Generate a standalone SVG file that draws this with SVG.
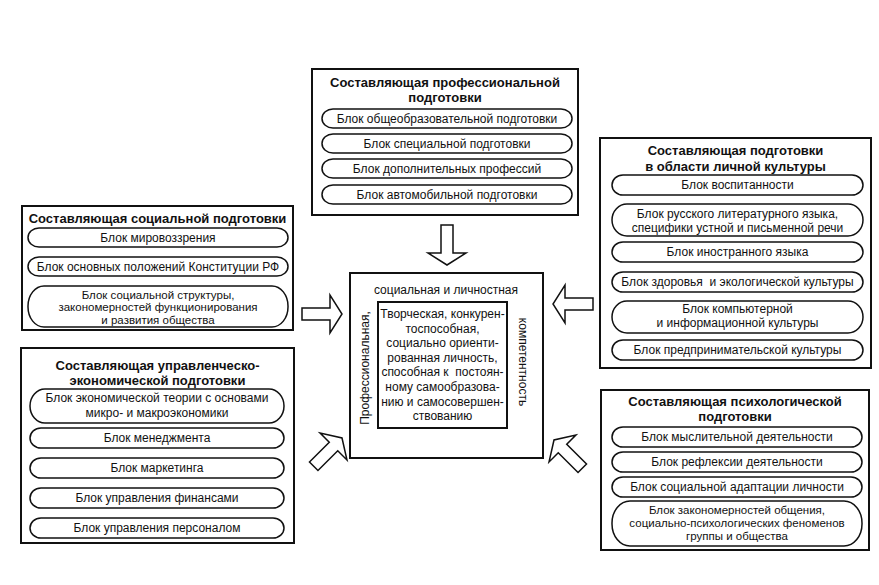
<svg xmlns="http://www.w3.org/2000/svg" width="879" height="585" viewBox="0 0 879 585">
<defs>
<style>
.box{fill:none;stroke:#111;stroke-width:2}
.pill{fill:#fff;stroke:#111;stroke-width:1.5}
.t{font-family:"Liberation Sans",Arial,sans-serif;font-size:12px;fill:#111;text-anchor:middle}
.s{font-size:11.5px}
.h{font-weight:bold;font-size:13px}
.arrow{fill:#fff;stroke:#111;stroke-width:1.5;stroke-linejoin:miter}
</style>
<path id="arr" d="M-40,-6 H-12 V-19 L0,0 L-12,19 V6 H-40 Z"/>
</defs>
<rect width="879" height="585" fill="#fff"/>

<g id="prof">
<rect class="box" x="312" y="69" width="266" height="146"/>
<text class="t h" x="445" y="87">Составляющая профессиональной</text>
<text class="t h" x="445" y="102">подготовки</text>
<rect class="pill" x="322" y="109" width="250" height="19" rx="11" ry="9.5"/>
<text class="t" x="447" y="122.5">Блок общеобразовательной подготовки</text>
<rect class="pill" x="322" y="134" width="250" height="19" rx="11" ry="9.5"/>
<text class="t" x="447" y="147.5">Блок специальной подготовки</text>
<rect class="pill" x="322" y="159" width="250" height="19" rx="11" ry="9.5"/>
<text class="t" x="447" y="172.5">Блок дополнительных профессий</text>
<rect class="pill" x="322" y="185" width="250" height="19" rx="11" ry="9.5"/>
<text class="t" x="447" y="198.5">Блок автомобильной подготовки</text>
</g>

<g id="social">
<rect class="box" x="22" y="206" width="271" height="124"/>
<text class="t h" x="157.5" y="223">Составляющая социальной подготовки</text>
<rect class="pill" x="28" y="228" width="260" height="19" rx="11" ry="9.5"/>
<text class="t" x="158" y="241.5">Блок мировоззрения</text>
<rect class="pill" x="28" y="257" width="260" height="19" rx="11" ry="9.5"/>
<text class="t" x="158" y="270.5">Блок основных положений Конституции РФ</text>
<rect class="pill" x="28" y="286" width="260" height="41" rx="16" ry="20"/>
<text class="t s" x="158" y="298.5">Блок социальной структуры,</text>
<text class="t s" x="158" y="311">закономерностей функционирования</text>
<text class="t s" x="158" y="323.5">и развития общества</text>
</g>

<g id="manage">
<rect class="box" x="21" y="348" width="273" height="195"/>
<text class="t h" x="157.5" y="369.5">Составляющая управленческо-</text>
<text class="t h" x="157.5" y="384.5">экономической подготовки</text>
<rect class="pill" x="30" y="389" width="254" height="34" rx="15" ry="17"/>
<text class="t" x="157" y="402">Блок экономической теории с основами</text>
<text class="t" x="157" y="416.5">микро- и макроэкономики</text>
<rect class="pill" x="30" y="428" width="254" height="20" rx="11" ry="10"/>
<text class="t" x="157" y="442">Блок менеджмента</text>
<rect class="pill" x="30" y="458" width="254" height="20" rx="11" ry="10"/>
<text class="t" x="157" y="472">Блок маркетинга</text>
<rect class="pill" x="30" y="488" width="254" height="20" rx="11" ry="10"/>
<text class="t" x="157" y="502">Блок управления финансами</text>
<rect class="pill" x="30" y="518" width="254" height="20" rx="11" ry="10"/>
<text class="t" x="157" y="532">Блок управления персоналом</text>
</g>

<g id="culture">
<rect class="box" x="600" y="138" width="271" height="230"/>
<text class="t h" x="735.5" y="155">Составляющая подготовки</text>
<text class="t h" x="735.5" y="171">в области личной культуры</text>
<rect class="pill" x="612" y="175" width="251" height="20" rx="11" ry="10"/>
<text class="t" x="737.5" y="189">Блок воспитанности</text>
<rect class="pill" x="612" y="204" width="251" height="32" rx="15" ry="16"/>
<text class="t" x="737.5" y="218">Блок русского литературного языка,</text>
<text class="t" x="737.5" y="231.5">специфики устной и письменной речи</text>
<rect class="pill" x="612" y="242" width="251" height="20" rx="11" ry="10"/>
<text class="t" x="737.5" y="256">Блок иностранного языка</text>
<rect class="pill" x="612" y="272" width="251" height="20" rx="11" ry="10"/>
<text class="t" x="737.5" y="286" xml:space="preserve">Блок здоровья  и экологической культуры</text>
<rect class="pill" x="612" y="301" width="251" height="32" rx="15" ry="16"/>
<text class="t" x="737.5" y="313">Блок компьютерной</text>
<text class="t" x="737.5" y="326.5">и информационной культуры</text>
<rect class="pill" x="612" y="340" width="251" height="20" rx="11" ry="10"/>
<text class="t" x="737.5" y="354">Блок предпринимательской культуры</text>
</g>

<g id="psych">
<rect class="box" x="601" y="390" width="268" height="160"/>
<text class="t h" x="735" y="406">Составляющая психологической</text>
<text class="t h" x="735" y="421">подготовки</text>
<rect class="pill" x="612" y="427" width="250" height="20" rx="11" ry="10"/>
<text class="t" x="737" y="441">Блок мыслительной деятельности</text>
<rect class="pill" x="612" y="452" width="250" height="20" rx="11" ry="10"/>
<text class="t" x="737" y="466">Блок рефлексии деятельности</text>
<rect class="pill" x="612" y="477" width="250" height="20" rx="11" ry="10"/>
<text class="t" x="737" y="491">Блок социальной адаптации личности</text>
<rect class="pill" x="612" y="501" width="250" height="45" rx="18" ry="22"/>
<text class="t s" x="737" y="514">Блок закономерностей общения,</text>
<text class="t s" x="737" y="527">социально-психологических феноменов</text>
<text class="t s" x="737" y="540">группы и общества</text>
</g>

<g id="center">
<rect class="box" x="350" y="273" width="193" height="185"/>
<text class="t" x="446" y="294">социальная и личностная</text>
<text class="t" transform="translate(369,368) rotate(-90)" x="0" y="0">Профессиональная,</text>
<text class="t" transform="translate(519,362) rotate(90)" x="0" y="0">компетентность</text>
<rect class="box" x="378" y="302" width="129" height="126"/>
<text class="t" x="442.5" y="318">Творческая, конкурен-</text>
<text class="t" x="442.5" y="332.6">тоспособная,</text>
<text class="t" x="442.5" y="347.2">социально ориенти-</text>
<text class="t" x="442.5" y="361.8">рованная личность,</text>
<text class="t" x="442.5" y="376.4" xml:space="preserve">способная к  постоян-</text>
<text class="t" x="442.5" y="391">ному самообразова-</text>
<text class="t" x="442.5" y="405.6">нию и самосовершен-</text>
<text class="t" x="442.5" y="420.2">ствованию</text>
</g>

<g id="connectors">
<use href="#arr" class="arrow" transform="translate(447,265) rotate(90)"/>
<use href="#arr" class="arrow" transform="translate(342,314)"/>
<use href="#arr" class="arrow" transform="translate(553,304) rotate(180)"/>
<use href="#arr" class="arrow" transform="translate(342,438) rotate(-45)"/>
<use href="#arr" class="arrow" transform="translate(554,440) rotate(-135)"/>
</g>
</svg>
